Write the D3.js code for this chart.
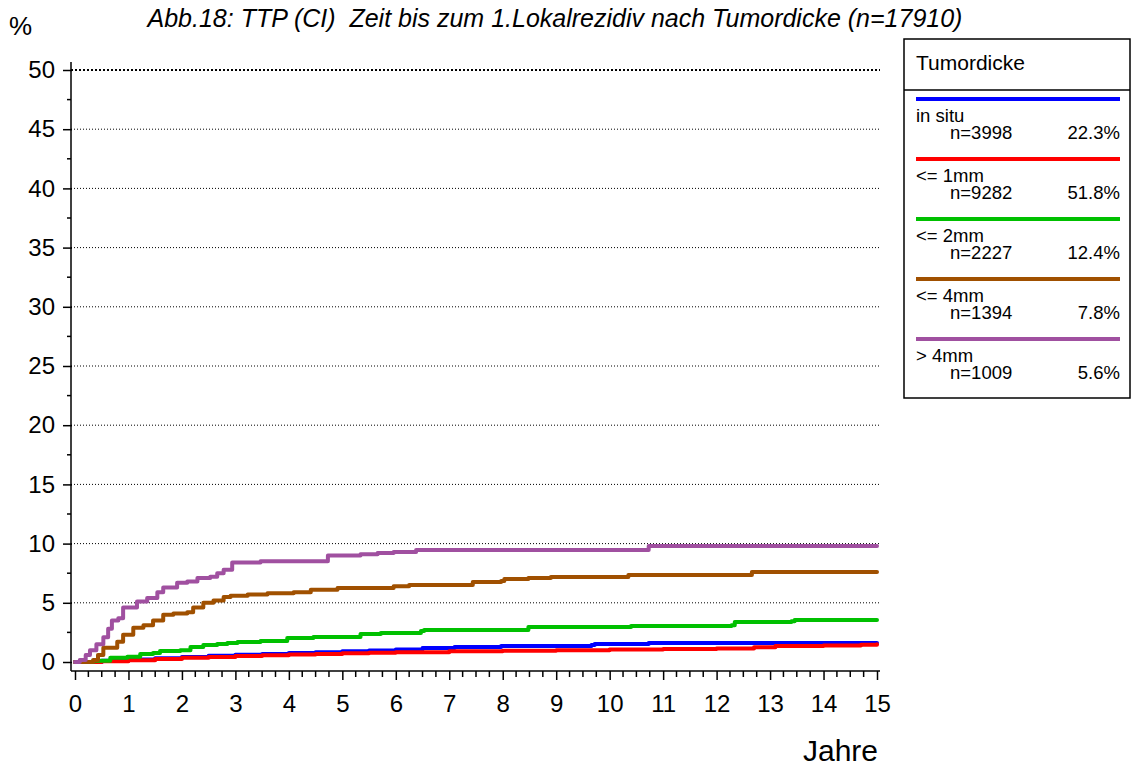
<!DOCTYPE html>
<html>
<head>
<meta charset="utf-8">
<script src="https://cdn.jsdelivr.net/npm/d3@7"></script>
<style>
  body { margin: 0; background: #fff; }
  svg { display: block; font-family: Arial, 'Liberation Sans', sans-serif; }
</style>
</head>
<body>
<svg id="chart" width="1131" height="767"></svg>
<script>
// Gruppen (Tumordicke)
var groupNames = ['in situ', '<= 1mm', '<= 2mm', '<= 4mm', '> 4mm'];
var groupN = ['n=3998', 'n=9282', 'n=2227', 'n=1394', 'n=1009'];
var groupPct = ['22.3%', '51.8%', '12.4%', '7.8%', '5.6%'];
var groupColors = ['#0000ff', '#ff0000', '#00c000', '#a05000', '#a050a0'];

// Kurven: [Jahre, %]
var inSitu = [[0,0],[0.5,0.1],[1,0.22],[1.5,0.32],[2,0.42],[2.5,0.52],[3,0.62],[3.5,0.68],[4,0.75],[4.5,0.82],[5,0.9],[5.5,0.97],[6,1.05],[6.5,1.18],[7.1,1.27],[7.97,1.35],[9.66,1.44],[9.72,1.52],[10.65,1.52],[10.73,1.6],[15,1.6]];
var upTo1mm = [[0,0],[0.5,0.07],[1,0.15],[1.5,0.25],[2,0.35],[2.5,0.43],[3,0.5],[3.5,0.57],[4,0.63],[4.5,0.68],[5,0.73],[5.5,0.78],[6,0.82],[7,0.9],[8,0.95],[9,1.0],[10,1.05],[11,1.1],[12,1.15],[12.7,1.25],[13.1,1.35],[14,1.4],[14.7,1.45],[15,1.5]];
var upTo2mm = [[0,0],[0.34,0.1],[0.66,0.35],[0.98,0.45],[1.22,0.68],[1.46,0.76],[1.59,0.93],[1.97,1.0],[2.16,1.27],[2.4,1.44],[2.66,1.52],[2.85,1.6],[3.04,1.69],[3.47,1.77],[3.97,2.03],[4.46,2.11],[5.1,2.11],[5.34,2.36],[5.72,2.45],[6.47,2.62],[6.53,2.7],[7.97,2.7],[8.48,2.96],[9.34,2.96],[10.4,3.04],[12.28,3.1],[12.34,3.38],[13.4,3.45],[13.46,3.55],[15,3.55]];
var upTo4mm = [[0,0],[0.34,0.17],[0.43,0.6],[0.53,1.2],[0.66,1.2],[0.79,1.7],[0.9,2.3],[1.09,2.9],[1.28,3.1],[1.46,3.5],[1.65,4.0],[1.84,4.1],[2.1,4.2],[2.21,4.6],[2.4,5.0],[2.59,5.2],[2.78,5.5],[2.91,5.6],[3.23,5.7],[3.6,5.8],[4.09,5.9],[4.41,6.1],[4.73,6.1],[4.91,6.25],[5.72,6.25],[5.96,6.4],[6.25,6.5],[7.35,6.5],[7.44,6.76],[7.97,6.84],[8.03,7.0],[8.48,7.09],[8.9,7.18],[10.28,7.18],[10.35,7.35],[12.6,7.35],[12.66,7.6],[15,7.6]];
var over4mm = [[0,0],[0.09,0.17],[0.2,0.6],[0.28,1.0],[0.4,1.5],[0.53,2.1],[0.62,2.8],[0.69,3.5],[0.81,3.7],[0.9,4.6],[1.03,4.6],[1.16,5.1],[1.35,5.4],[1.54,5.9],[1.65,6.3],[1.91,6.7],[2.1,6.8],[2.29,7.1],[2.53,7.2],[2.66,7.5],[2.78,7.8],[2.94,8.4],[3.09,8.4],[3.47,8.5],[4.46,8.5],[4.73,9.0],[5.34,9.1],[5.66,9.2],[5.96,9.3],[6.38,9.46],[10.65,9.46],[10.73,9.8],[15,9.8]];
var curves = [inSitu, upTo1mm, upTo2mm, upTo4mm, over4mm];

var yTicks = [0, 5, 10, 15, 20, 25, 30, 35, 40, 45, 50];
var xTicks = d3.range(0, 16);

var svg = d3.select('#chart');

var x = d3.scaleLinear().domain([0, 15]).range([75, 877]);
var y = d3.scaleLinear().domain([0, 50]).range([662, 70]);

// Gitterlinien
svg.append('g').selectAll('line')
  .data(yTicks.filter(function (d) { return d > 0; }))
  .enter().append('line')
  .attr('x1', 71).attr('x2', 880)
  .attr('y1', function (d) { return y(d); })
  .attr('y2', function (d) { return y(d); })
  .attr('stroke', '#000')
  .attr('stroke-width', function (d) { return d === 50 ? 2 : 1; })
  .attr('stroke-dasharray', function (d) { return d === 50 ? '2,2' : '1,2'; });

// Y-Achse
var yAxis = d3.axisLeft(y)
  .tickValues(yTicks)
  .tickSize(8)
  .tickPadding(8);
var gy = svg.append('g')
  .attr('transform', 'translate(71,0)')
  .call(yAxis);
gy.select('.domain').attr('d', 'M0,62V671').attr('stroke-width', 1.5);
gy.selectAll('.tick line').attr('stroke-width', 1.5).attr('x2', -8).attr('x1', 1);
gy.selectAll('.tick text').attr('font-size', 24).attr('font-family', 'Arial, Liberation Sans, sans-serif').attr('fill', '#000');
gy.append('g').selectAll('line')
  .data(d3.range(2.5, 50, 5))
  .enter().append('line')
  .attr('x1', -4).attr('x2', 0)
  .attr('y1', function (d) { return y(d); })
  .attr('y2', function (d) { return y(d); })
  .attr('stroke', '#000').attr('stroke-width', 1.5);

// X-Achse
var xAxis = d3.axisBottom(x)
  .tickValues(xTicks)
  .tickSize(9)
  .tickPadding(15);
var gx = svg.append('g')
  .attr('transform', 'translate(0,671)')
  .call(xAxis);
gx.select('.domain').attr('d', 'M71,0H880').attr('stroke-width', 1.5);
gx.selectAll('.tick line').attr('stroke-width', 1.5);
gx.selectAll('.tick text').attr('font-size', 24).attr('font-family', 'Arial, Liberation Sans, sans-serif').attr('fill', '#000');
gx.append('g').selectAll('line')
  .data(d3.range(0, 15, 0.25).filter(function (d) { return d % 1 !== 0; }))
  .enter().append('line')
  .attr('x1', function (d) { return x(d); })
  .attr('x2', function (d) { return x(d); })
  .attr('y1', 0).attr('y2', 6)
  .attr('stroke', '#000').attr('stroke-width', 1.5);

// Kurven
var line = d3.line()
  .x(function (d) { return x(d[0]); })
  .y(function (d) { return y(d[1]); })
  .curve(d3.curveStepAfter);

svg.append('g').selectAll('path')
  .data(curves)
  .enter().append('path')
  .attr('d', line)
  .attr('fill', 'none')
  .attr('stroke', function (d, i) { return groupColors[i]; })
  .attr('stroke-width', 4)
  .attr('stroke-linejoin', 'round')
  .attr('stroke-linecap', 'round');

// Titel und Beschriftung
svg.append('text')
  .attr('x', 9).attr('y', 35)
  .attr('font-size', 26)
  .text('%');
svg.append('text')
  .attr('x', 555).attr('y', 27)
  .attr('text-anchor', 'middle')
  .attr('font-size', 25)
  .attr('font-style', 'italic')
  .text('Abb.18: TTP (CI)\u00a0\u00a0Zeit bis zum 1.Lokalrezidiv nach Tumordicke (n=17910)');
svg.append('text')
  .attr('x', 878).attr('y', 761)
  .attr('text-anchor', 'end')
  .attr('font-size', 30)
  .text('Jahre');

// Legende
var legend = svg.append('g');
legend.append('rect')
  .attr('x', 904).attr('y', 39)
  .attr('width', 226).attr('height', 359)
  .attr('fill', '#fff').attr('stroke', '#000').attr('stroke-width', 1.5);
legend.append('line')
  .attr('x1', 904).attr('x2', 1130)
  .attr('y1', 90).attr('y2', 90)
  .attr('stroke', '#000').attr('stroke-width', 1.5);
legend.append('text')
  .attr('x', 916).attr('y', 70)
  .attr('font-size', 21)
  .text('Tumordicke');

var items = legend.selectAll('g.item')
  .data(groupNames)
  .enter().append('g')
  .attr('class', 'item')
  .attr('transform', function (d, i) { return 'translate(0,' + (99 + i * 60) + ')'; });
items.append('line')
  .attr('x1', 916).attr('x2', 1120)
  .attr('stroke', function (d, i) { return groupColors[i]; })
  .attr('stroke-width', 4);
items.append('text')
  .attr('x', 916).attr('y', 23)
  .attr('font-size', 18.5)
  .text(function (d) { return d; });
items.append('text')
  .attr('x', 950).attr('y', 40)
  .attr('font-size', 18.5)
  .text(function (d, i) { return groupN[i]; });
items.append('text')
  .attr('x', 1120).attr('y', 40)
  .attr('text-anchor', 'end')
  .attr('font-size', 18.5)
  .text(function (d, i) { return groupPct[i]; });
</script>
</body>
</html>
